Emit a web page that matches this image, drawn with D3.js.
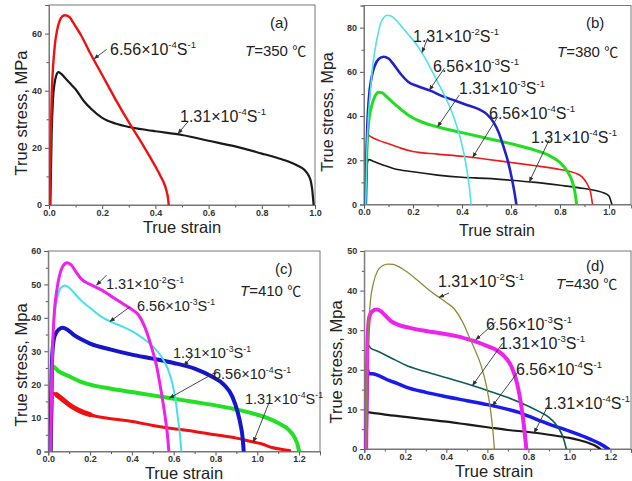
<!DOCTYPE html>
<html><head><meta charset="utf-8">
<script src="https://cdn.jsdelivr.net/npm/d3@7/dist/d3.min.js"></script>
<style>body{margin:0;background:#fff}svg{display:block}</style>
</head><body>
<svg id="chart" width="632" height="481"></svg>
<script>
// ---------- data (true strain, true stress MPa) ----------
// Panel (a) T=350 C
const a_656e4 = [[0.003,0],[0.006,20],[0.01,38],[0.015,48],[0.022,56],[0.03,61],[0.04,64.5],[0.05,66],[0.06,66.4],[0.07,66.2],[0.08,65.5],[0.09,64],[0.1,62.5],[0.12,59.5],[0.15,54],[0.2,45.5],[0.25,37],[0.3,29],[0.35,21.5],[0.4,13.5],[0.42,10],[0.435,7],[0.443,4.5],[0.448,2],[0.45,0]];
const a_131e4 = [[0.005,0],[0.01,25],[0.015,37],[0.02,42],[0.028,45.5],[0.035,46.5],[0.045,46],[0.06,44.5],[0.08,42.5],[0.1,40.5],[0.13,36.5],[0.16,33.5],[0.2,30.5],[0.25,28.5],[0.3,27.3],[0.35,26.5],[0.4,25.8],[0.5,24.5],[0.6,22.5],[0.7,20.5],[0.8,18],[0.85,16.7],[0.9,15.2],[0.93,14],[0.96,12.3],[0.975,10.5],[0.985,8],[0.99,5],[0.993,2],[0.995,0]];
// Panel (b) T=380 C
const b_131e2 = [[0.007,0],[0.012,25],[0.018,40],[0.025,50],[0.035,62],[0.045,70],[0.055,76],[0.065,81],[0.08,84.5],[0.095,85.6],[0.11,85.3],[0.13,83.5],[0.15,81],[0.18,77],[0.21,73],[0.24,68],[0.27,62],[0.3,55.5],[0.33,49],[0.36,41.5],[0.38,35],[0.4,27],[0.415,19],[0.425,12],[0.432,6],[0.437,0]];
const b_656e3 = [[0.007,0],[0.012,30],[0.02,48],[0.03,57],[0.045,63],[0.06,65.8],[0.08,66.8],[0.1,66],[0.12,63.5],[0.15,59],[0.18,55.5],[0.22,53.5],[0.27,51.5],[0.32,49],[0.37,47],[0.42,45],[0.47,43],[0.5,41],[0.53,37],[0.55,32.5],[0.57,26],[0.59,18.5],[0.605,11],[0.615,5],[0.622,0]];
const b_131e3 = [[0.007,0],[0.012,25],[0.02,38],[0.03,44],[0.045,49],[0.06,50.8],[0.075,50.5],[0.09,49],[0.11,47],[0.14,44],[0.18,40.5],[0.22,38],[0.27,36],[0.32,34.5],[0.4,32.5],[0.5,30],[0.6,27.5],[0.7,24.5],[0.75,22.5],[0.8,19],[0.83,15],[0.85,10.5],[0.862,5],[0.868,0]];
const b_656e4 = [[0.007,0],[0.01,22],[0.013,30],[0.018,31.3],[0.03,30.5],[0.06,29],[0.1,27.5],[0.15,25.5],[0.2,24],[0.3,22.8],[0.4,21.8],[0.5,20.5],[0.6,19],[0.7,17.5],[0.8,15.8],[0.86,14.3],[0.89,12.5],[0.91,9.5],[0.925,5.5],[0.933,0]];
const b_131e4 = [[0.007,0],[0.01,12],[0.015,19.5],[0.02,20.3],[0.04,19.5],[0.08,17.8],[0.12,16.3],[0.2,14.8],[0.3,13.3],[0.4,12.3],[0.5,11.8],[0.6,11],[0.7,10],[0.8,8.7],[0.9,7.2],[0.95,6.2],[0.98,5.2],[1.0,3.8],[1.008,1.5],[1.012,0]];
// Panel (c) T=410 C
const c_131e2 = [[0.011,0],[0.015,15],[0.02,30],[0.027,40],[0.04,48],[0.055,53],[0.07,55.5],[0.09,56.5],[0.11,55.8],[0.13,54],[0.16,51.5],[0.2,50],[0.25,48.5],[0.3,46.5],[0.35,44.5],[0.4,42.5],[0.43,41],[0.46,37.5],[0.49,32],[0.52,25],[0.54,18],[0.56,10],[0.57,5],[0.577,0]];
const c_656e3 = [[0.011,0],[0.015,20],[0.02,32],[0.03,41],[0.045,46.5],[0.06,49],[0.08,49.7],[0.1,49],[0.13,47],[0.16,45],[0.2,43],[0.25,40.5],[0.3,38.8],[0.35,37.5],[0.4,36],[0.45,34],[0.5,31.5],[0.54,28.5],[0.57,25],[0.595,20],[0.61,15],[0.62,10],[0.63,5],[0.637,0]];
const c_131e3 = [[0.011,0],[0.015,20],[0.02,30],[0.03,34.5],[0.05,36.5],[0.07,37],[0.09,36.5],[0.12,35],[0.16,33.5],[0.2,32.3],[0.3,30.5],[0.4,29],[0.5,27.8],[0.6,26.5],[0.7,24.8],[0.78,22.5],[0.84,20],[0.88,16.5],[0.905,12],[0.92,8],[0.93,4],[0.935,0]];
const c_656e4 = [[0.012,0],[0.015,15],[0.02,25.5],[0.05,24],[0.1,22.5],[0.15,21],[0.2,20],[0.3,18.8],[0.4,17.8],[0.5,16.8],[0.6,15.8],[0.7,14.8],[0.8,13.8],[0.9,12.6],[1.0,11],[1.05,10],[1.1,8.5],[1.15,6.5],[1.18,4],[1.195,1.5],[1.2,0]];
const c_131e4 = [[0.012,0],[0.016,10],[0.02,17.5],[0.04,17],[0.07,15.5],[0.1,14],[0.14,12.5],[0.2,11],[0.3,9.8],[0.4,9],[0.5,7.8],[0.6,6.8],[0.7,6],[0.8,5],[0.9,4],[0.97,3],[1.02,2.3],[1.07,1.2],[1.12,0.6],[1.155,0.3]];
// Panel (d) T=430 C
const d_131e2 = [[0.008,0],[0.012,15],[0.016,25],[0.022,32],[0.03,37.5],[0.045,42],[0.065,45],[0.09,46.3],[0.115,46.7],[0.14,46.6],[0.17,46],[0.2,45],[0.25,43],[0.3,40.8],[0.35,38.8],[0.4,37],[0.44,35.3],[0.48,32],[0.51,28.5],[0.54,25],[0.57,21],[0.595,16],[0.615,10],[0.628,4],[0.634,0]];
const d_656e3 = [[0.009,0],[0.013,20],[0.018,30],[0.025,33.5],[0.04,34.8],[0.06,35.2],[0.08,34.8],[0.1,33.8],[0.13,32.3],[0.17,31.3],[0.22,30.6],[0.3,29.8],[0.4,29],[0.45,28.5],[0.5,27.8],[0.55,27],[0.6,26],[0.65,24.8],[0.69,23],[0.72,20.5],[0.745,16.5],[0.765,11],[0.78,5],[0.79,0]];
const d_131e3 = [[0.008,0],[0.012,18],[0.016,26.5],[0.03,25.5],[0.06,24.8],[0.1,23.8],[0.15,22.5],[0.2,21.2],[0.3,19.5],[0.4,18],[0.5,16.5],[0.6,14.8],[0.7,13],[0.8,10.8],[0.85,9.5],[0.9,8],[0.93,6.5],[0.95,5],[0.97,2.8],[0.985,0]];
const d_656e4 = [[0.008,0],[0.012,12],[0.016,20],[0.02,19],[0.04,19],[0.08,18.3],[0.12,17.3],[0.16,16.6],[0.2,15.7],[0.3,14.3],[0.4,13.2],[0.5,12.2],[0.6,11.2],[0.7,10],[0.75,9.3],[0.8,8.3],[0.9,6.3],[1.0,4.5],[1.1,2.5],[1.15,1.3],[1.19,0]];
const d_131e4 = [[0.008,0],[0.011,9.3],[0.03,9.2],[0.1,8.7],[0.2,8.1],[0.3,7.5],[0.4,6.9],[0.5,6.2],[0.6,5.5],[0.7,4.8],[0.8,4.3],[0.9,3.6],[1.0,2.8],[1.05,2.2],[1.1,1.4],[1.13,0.7],[1.15,0]];

// tick values
const xTicksA = [0,0.2,0.4,0.6,0.8,1.0];
const xTicksB = [0,0.2,0.4,0.6,0.8,1.0];
const xTicksCD = [0,0.2,0.4,0.6,0.8,1.0,1.2];
const yTicksA = [0,20,40,60];
const yTicksB = [0,20,40,60,80];
const yTicksC = [0,10,20,30,40,50,60];
const yTicksD = [0,10,20,30,40,50];
// strain-rate labels: [mantissa, exponent]
const rates = {r131e2:["1.31","-2"], r656e3:["6.56","-3"], r131e3:["1.31","-3"], r656e4:["6.56","-4"], r131e4:["1.31","-4"]};
const temps = {a:"350", b:"380", c:"410", d:"430"};

// ---------- layout ----------
const panels = [
 {key:"a", box:[49,5,315,205], xd:[0,1.0], yd:[0,70], xt:xTicksA, yt:yTicksA, xmin:0.1, ymin:10,
  ytitle:"True stress, MPa", ytx:21, yty:113, xtx:182, xty:233, fs:16.5,
  tag:[270,28], temp:[245,56],
  series:[
   {d:a_131e4, c:"#1a1a1a", w:2.2},
   {d:a_656e4, c:"#ee1111", w:2.4}],
  labels:[
   {r:"r656e4", x:110, y:49, arr:[[0.217,54.5],[0.170,51.2]]},
   {r:"r131e4", x:180, y:116, arr:[[0.523,29.2],[0.485,25.0]]}]},
 {key:"b", box:[364,5.5,631,204.5], xd:[0,1.09], yd:[0,90], xt:xTicksB, yt:yTicksB, xmin:0.1, ymin:10,
  ytitle:"True stress, Mpa", ytx:327, yty:112, xtx:497, xty:236, fs:16,
  tag:[586,28], temp:[557,57],
  series:[
   {d:b_131e4, c:"#1a1a1a", w:1.6},
   {d:b_656e4, c:"#ee1a1a", w:1.6},
   {d:b_131e3, c:"#22dd22", w:3},
   {d:b_656e3, c:"#2222cc", w:2.6},
   {d:b_131e2, c:"#4ee2ea", w:1.6}],
  labels:[
   {r:"r131e2", x:413, y:36, arr:[[0.26,75.2],[0.237,68.8]]},
   {r:"r656e3", x:433, y:66, arr:[[0.328,61.6],[0.267,51.8]]},
   {r:"r131e3", x:459, y:88, arr:[[0.389,49.5],[0.301,35.2]]},
   {r:"r656e4", x:489, y:113, arr:[[0.546,39.7],[0.444,21.4]]},
   {r:"r131e4", x:531, y:137, arr:[[0.756,29.2],[0.675,10.3]]}]},
 {key:"c", box:[48.3,251,320,451.5], xd:[0,1.3], yd:[0,60], xt:xTicksCD, yt:yTicksC, xmin:0.1, ymin:5,
  ytitle:"True stress, Mpa", ytx:21, yty:365, xtx:184, xty:479, fs:16.5,
  tag:[275,274], temp:[240,296],
  series:[
   {d:c_131e4, c:"#ee1111", w:3},
   {d:c_131e4.filter(p=>p[0]>=0.04 && p[0]<=0.2), c:"#ee1111", w:5},
   {d:c_656e4, c:"#22e022", w:4},
   {d:c_131e3, c:"#1515cc", w:4},
   {d:c_656e3, c:"#45e0e8", w:2},
   {d:c_131e2, c:"#ee22ee", w:3}],
  labels:[
   {r:"r131e2", x:106, y:284, arr:[[0.279,52.8],[0.231,49.8]], fs:14.5},
   {r:"r656e3", x:137, y:306, arr:[[0.391,43.3],[0.295,38.9]], fs:14.5},
   {r:"r131e3", x:173, y:353, arr:[[0.694,28.9],[0.649,25.7]], fs:14.5},
   {r:"r656e4", x:213, y:374, arr:[[0.806,23.9],[0.58,16.0]], fs:14.5},
   {r:"r131e4", x:245, y:399, arr:[[1.061,15.4],[0.981,2.8]], fs:14.5}]},
 {key:"d", box:[364.3,251,631,449], xd:[0,1.3], yd:[0,50], xt:xTicksCD, yt:yTicksD, xmin:0.1, ymin:5,
  ytitle:"True stress, Mpa", ytx:336, yty:362, xtx:494, xty:477, fs:16.5,
  tag:[586,271], temp:[556,289],
  series:[
   {d:d_131e4, c:"#1a1a1a", w:2.2},
   {d:d_656e4, c:"#1a1aee", w:3.5},
   {d:d_131e3, c:"#0d5c55", w:1.6},
   {d:d_656e3, c:"#ee22ee", w:4},
   {d:d_131e2, c:"#8c8c3a", w:1.3}],
  labels:[
   {r:"r131e2", x:438, y:281, arr:[[0.413,39.4],[0.365,38.3]]},
   {r:"r656e3", x:486, y:324, arr:[[0.641,32.1],[0.544,27.6]]},
   {r:"r131e3", x:499, y:343, arr:[[0.674,26.7],[0.528,16.1]]},
   {r:"r656e4", x:516, y:369, arr:[[0.755,19.9],[0.625,10.9]]},
   {r:"r131e4", x:544, y:403, arr:[[0.901,11.5],[0.828,4.1]]}]}
];

const svg = d3.select("#chart");
const FONT = "'Liberation Sans', Arial, sans-serif";
const defs = svg.append("defs");
defs.append("marker").attr("id","ah").attr("viewBox","0 0 10 10").attr("refX",9).attr("refY",5)
  .attr("markerWidth",6).attr("markerHeight",6).attr("orient","auto-start-reverse")
  .append("path").attr("d","M0,1 L10,5 L0,9 z").attr("fill","#333");

panels.forEach((p,i) => {
  const [L,T,R,B] = p.box;
  const x = d3.scaleLinear().domain(p.xd).range([L,R]);
  const y = d3.scaleLinear().domain(p.yd).range([B,T]);
  const g = svg.append("g");
  defs.append("clipPath").attr("id","clip"+i).append("rect").attr("x",L).attr("y",T-2).attr("width",R-L).attr("height",B-T+2);

  // minor ticks
  const xMinor = d3.range(p.xd[0], p.xd[1]+1e-9, p.xmin).filter(v => !p.xt.some(t => Math.abs(t-v)<1e-6));
  const yMinor = d3.range(p.yd[0], p.yd[1]+1e-9, p.ymin).filter(v => !p.yt.some(t => Math.abs(t-v)<1e-6));
  g.append("g").attr("transform",`translate(0,${B})`)
    .call(d3.axisBottom(x).tickValues(p.xt).tickFormat(d3.format(".1f")).tickSize(4).tickPadding(0.5));
  g.append("g").attr("transform",`translate(0,${B})`).call(d3.axisBottom(x).tickValues(xMinor).tickFormat("").tickSize(2.5))
    .call(s=>s.select(".domain").remove());
  g.append("g").attr("transform",`translate(${L},0)`)
    .call(d3.axisLeft(y).tickValues(p.yt).tickFormat(d3.format("d")).tickSize(4).tickPadding(3));
  g.append("g").attr("transform",`translate(${L},0)`).call(d3.axisLeft(y).tickValues(yMinor).tickFormat("").tickSize(2.5))
    .call(s=>s.select(".domain").remove());
  g.selectAll(".tick line").attr("stroke","#555");
  g.selectAll(".domain").attr("stroke","#777");
  g.selectAll(".tick text").attr("font-family",FONT).attr("font-weight","bold").attr("font-size",9).attr("fill","#333");
  // frame
  g.append("rect").attr("x",L).attr("y",T).attr("width",R-L).attr("height",B-T).attr("fill","none").attr("stroke","#777").attr("stroke-width",1);

  // series
  const line = d3.line().x(d=>x(d[0])).y(d=>y(d[1])).curve(d3.curveMonotoneX);
  const sg = g.append("g").attr("clip-path",`url(#clip${i})`);
  p.series.forEach(s => {
    sg.append("path").datum(s.d).attr("d",line).attr("fill","none")
      .attr("stroke",s.c).attr("stroke-width",s.w).attr("stroke-linejoin","round").attr("stroke-linecap","round");
  });

  // axis titles
  g.append("text").attr("x",p.xtx).attr("y",p.xty).attr("text-anchor","middle")
    .attr("font-family",FONT).attr("font-size",p.fs).attr("fill","#222").text("True strain");
  g.append("text").attr("transform",`translate(${p.ytx},${p.yty}) rotate(-90)`).attr("text-anchor","middle")
    .attr("dominant-baseline","central").attr("font-family",FONT).attr("font-size",p.fs).attr("fill","#222").text(p.ytitle);

  // panel tag and temperature
  g.append("text").attr("x",p.tag[0]).attr("y",p.tag[1]).attr("font-family",FONT).attr("font-size",15).attr("fill","#222").text(`(${p.key})`);
  const tt = g.append("text").attr("x",p.temp[0]).attr("y",p.temp[1]).attr("font-family",FONT).attr("font-size",15).attr("fill","#222");
  tt.append("tspan").attr("font-style","italic").text("T");
  tt.append("tspan").text(`=${temps[p.key]} `);
  tt.append("tspan").attr("font-family","'Noto Sans CJK SC', 'DejaVu Serif', serif").attr("font-size",14).text("℃");

  // rate labels + arrows
  p.labels.forEach(lb => {
    const [m,e] = rates[lb.r];
    const fs = lb.fs || 16;
    const t = g.append("text").attr("x",lb.x).attr("y",lb.y+fs*0.36).attr("font-family",FONT).attr("font-size",fs).attr("fill","#222");
    t.append("tspan").text(m + "×10");
    t.append("tspan").attr("font-size",fs*0.6).attr("dy",-fs*0.42).text(e);
    t.append("tspan").attr("dy",fs*0.42).text("S");
    t.append("tspan").attr("font-size",fs*0.6).attr("dy",-fs*0.42).text("-1");
    g.append("line").attr("x1",x(lb.arr[0][0])).attr("y1",y(lb.arr[0][1]))
      .attr("x2",x(lb.arr[1][0])).attr("y2",y(lb.arr[1][1]))
      .attr("stroke","#333").attr("stroke-width",0.9).attr("marker-end","url(#ah)");
  });
});
</script>
</body></html>
